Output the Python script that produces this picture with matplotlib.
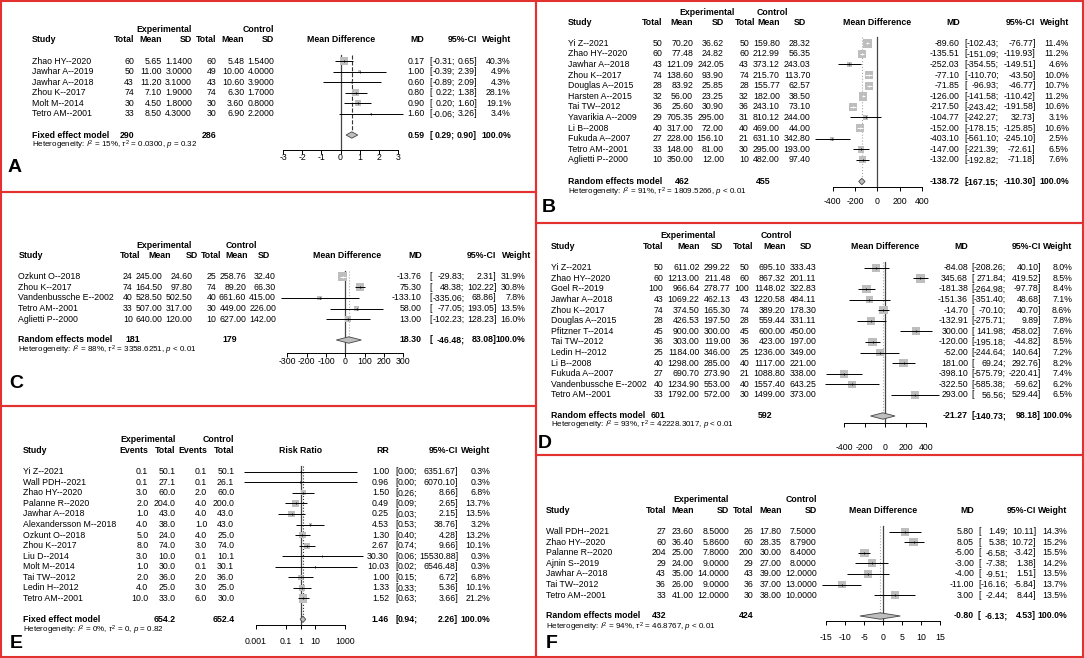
import numpy as np
import matplotlib.pyplot as plt
from matplotlib import transforms
from matplotlib.patches import Rectangle
from matplotlib.ticker import NullLocator

plt.rcParams['font.family'] = ['Liberation Sans', 'DejaVu Sans']
plt.rcParams['mathtext.fontset'] = 'custom'
plt.rcParams['mathtext.rm'] = 'Liberation Sans'
plt.rcParams['mathtext.it'] = 'Liberation Sans:italic'

# ---------------- A : fixed effect, mean difference
a_study = ['Zhao HY--2020', 'Jawhar A--2019', 'Jawhar A--2018', 'Zhou K--2017', 'Molt M--2014', 'Tetro AM--2001']
a_n1 = [60, 50, 43, 74, 30, 33]
a_m1 = [5.65, 11.00, 11.20, 7.10, 4.50, 8.50]
a_s1 = [1.14, 3.0, 3.1, 1.9, 1.8, 4.3]
a_n2 = [60, 49, 43, 74, 30, 30]
a_m2 = [5.48, 10.00, 10.60, 6.30, 3.60, 6.90]
a_s2 = [1.54, 4.0, 3.9, 1.7, 0.8, 2.2]
a_md = [0.17, 1.00, 0.60, 0.80, 0.90, 1.60]
a_lo = [-0.31, -0.39, -0.89, 0.22, 0.20, -0.06]
a_hi = [0.65, 2.39, 2.09, 1.38, 1.60, 3.26]
a_w = [40.3, 4.9, 4.3, 28.1, 19.1, 3.4]
a_pooled = [0.59, 0.29, 0.90]
a_totals = [290, 286]
a_het = ['15%', '0.0300', '= 0.32']
a_ticks = [-3, -2, -1, 0, 1, 2, 3]

# ---------------- B
b_study = ['Yi Z--2021', 'Zhao HY--2020', 'Jawhar A--2018', 'Zhou K--2017', 'Douglas A--2015', 'Harsten A--2015',
           'Tai TW--2012', 'Yavarikia A--2009', 'Li B--2008', 'Fukuda A--2007', 'Tetro AM--2001', 'Aglietti P--2000']
b_n1 = [50, 60, 43, 74, 28, 32, 36, 29, 40, 27, 33, 10]
b_m1 = [70.20, 77.48, 121.09, 138.60, 83.92, 56.00, 25.60, 705.35, 317.00, 228.00, 148.00, 350.00]
b_s1 = [36.62, 24.82, 242.05, 93.90, 25.85, 23.25, 30.90, 295.00, 72.00, 156.10, 81.00, 12.00]
b_n2 = [50, 60, 43, 74, 28, 32, 36, 31, 40, 21, 30, 10]
b_m2 = [159.80, 212.99, 373.12, 215.70, 155.77, 182.00, 243.10, 810.12, 469.00, 631.10, 295.00, 482.00]
b_s2 = [28.32, 56.35, 243.03, 113.70, 62.57, 38.50, 73.10, 244.00, 44.00, 342.80, 193.00, 97.40]
b_md = [-89.60, -135.51, -252.03, -77.10, -71.85, -126.00, -217.50, -104.77, -152.00, -403.10, -147.00, -132.00]
b_lo = [-102.43, -151.09, -354.55, -110.70, -96.93, -141.58, -243.42, -242.27, -178.15, -561.10, -221.39, -192.82]
b_hi = [-76.77, -119.93, -149.51, -43.50, -46.77, -110.42, -191.58, 32.73, -125.85, -245.10, -72.61, -71.18]
b_w = [11.4, 11.2, 4.6, 10.0, 10.7, 11.2, 10.6, 3.1, 10.6, 2.5, 6.5, 7.6]
b_pooled = [-138.72, -167.15, -110.30]
b_totals = [462, 455]
b_het = ['91%', '1809.5266', '< 0.01']
b_ticks = [-400, -200, 0, 200, 400]

# ---------------- C
c_study = ['Ozkunt O--2018', 'Zhou K--2017', 'Vandenbussche E--2002', 'Tetro AM--2001', 'Aglietti P--2000']
c_n1 = [24, 74, 40, 33, 10]
c_m1 = [245.00, 164.50, 528.50, 507.00, 640.00]
c_s1 = [24.60, 97.80, 502.50, 317.00, 120.00]
c_n2 = [25, 74, 40, 30, 10]
c_m2 = [258.76, 89.20, 661.60, 449.00, 627.00]
c_s2 = [32.40, 66.30, 415.00, 226.00, 142.00]
c_md = [-13.76, 75.30, -133.10, 58.00, 13.00]
c_lo = [-29.83, 48.38, -335.06, -77.05, -102.23]
c_hi = [2.31, 102.22, 68.86, 193.05, 128.23]
c_w = [31.9, 30.8, 7.8, 13.5, 16.0]
c_pooled = [18.30, -46.48, 83.08]
c_totals = [181, 179]
c_het = ['88%', '3358.6251', '< 0.01']
c_ticks = [-300, -200, -100, 0, 100, 200, 300]

# ---------------- D
d_study = ['Yi Z--2021', 'Zhao HY--2020', 'Goel R--2019', 'Jawhar A--2018', 'Zhou K--2017', 'Douglas A--2015',
           'Pfitzner T--2014', 'Tai TW--2012', 'Ledin H--2012', 'Li B--2008', 'Fukuda A--2007',
           'Vandenbussche E--2002', 'Tetro AM--2001']
d_n1 = [50, 60, 100, 43, 74, 28, 45, 36, 25, 40, 27, 40, 33]
d_m1 = [611.02, 1213.00, 966.64, 1069.22, 374.50, 426.53, 900.00, 303.00, 1184.00, 1298.00, 690.70, 1234.90, 1792.00]
d_s1 = [299.22, 211.48, 278.77, 462.13, 165.30, 197.50, 300.00, 119.00, 346.00, 285.00, 273.90, 553.00, 572.00]
d_n2 = [50, 60, 100, 43, 74, 28, 45, 36, 25, 40, 21, 40, 30]
d_m2 = [695.10, 867.32, 1148.02, 1220.58, 389.20, 559.44, 600.00, 423.00, 1236.00, 1117.00, 1088.80, 1557.40, 1499.00]
d_s2 = [333.43, 201.11, 322.83, 484.11, 178.30, 331.11, 450.00, 197.00, 349.00, 221.00, 338.00, 643.25, 373.00]
d_md = [-84.08, 345.68, -181.38, -151.36, -14.70, -132.91, 300.00, -120.00, -52.00, 181.00, -398.10, -322.50, 293.00]
d_lo = [-208.26, 271.84, -264.98, -351.40, -70.10, -275.71, 141.98, -195.18, -244.64, 69.24, -575.79, -585.38, 56.56]
d_hi = [40.10, 419.52, -97.78, 48.68, 40.70, 9.89, 458.02, -44.82, 140.64, 292.76, -220.41, -59.62, 529.44]
d_w = [8.0, 8.5, 8.4, 7.1, 8.6, 7.8, 7.6, 8.5, 7.2, 8.2, 7.4, 6.2, 6.5]
d_pooled = [-21.27, -140.73, 98.18]
d_totals = [601, 592]
d_het = ['93%', '42228.3017', '< 0.01']
d_ticks = [-400, -200, 0, 200, 400]

# ---------------- E : risk ratio (log scale)
e_study = ['Yi Z--2021', 'Wall PDH--2021', 'Zhao HY--2020', 'Palanne R--2020', 'Jawhar A--2018',
           'Alexandersson M--2018', 'Ozkunt O--2018', 'Zhou K--2017', 'Liu D--2014', 'Molt M--2014',
           'Tai TW--2012', 'Ledin H--2012', 'Tetro AM--2001']
e_ev1 = [0.1, 0.1, 3.0, 2.0, 1.0, 4.0, 5.0, 8.0, 3.0, 1.0, 2.0, 4.0, 10.0]
e_n1 = [50.1, 27.1, 60.0, 204.0, 43.0, 38.0, 24.0, 74.0, 10.0, 30.0, 36.0, 25.0, 33.0]
e_ev2 = [0.1, 0.1, 2.0, 4.0, 4.0, 1.0, 4.0, 3.0, 0.1, 0.1, 2.0, 3.0, 6.0]
e_n2 = [50.1, 26.1, 60.0, 200.0, 43.0, 43.0, 25.0, 74.0, 10.1, 30.1, 36.0, 25.0, 30.0]
e_rr = [1.00, 0.96, 1.50, 0.49, 0.25, 4.53, 1.30, 2.67, 30.30, 10.03, 1.00, 1.33, 1.52]
e_lo = [0.00016, 0.00015, 0.26, 0.09, 0.03, 0.53, 0.40, 0.74, 0.06, 0.02, 0.15, 0.33, 0.63]
e_hi = [6351.67, 6070.10, 8.66, 2.65, 2.15, 38.76, 4.28, 9.66, 15530.88, 6546.48, 6.72, 5.36, 3.66]
e_w = [0.3, 0.3, 6.8, 13.7, 13.5, 3.2, 13.2, 10.1, 0.3, 0.3, 6.8, 10.1, 21.2]
e_pooled = [1.46, 0.94, 2.26]
e_totals = ['654.2', '652.4']
e_het = ['0%', '0', '= 0.82']
e_ticks = [0.001, 0.1, 1, 10, 1000]

# ---------------- F
f_study = ['Wall PDH--2021', 'Zhao HY--2020', 'Palanne R--2020', 'Ajnin S--2019', 'Jawhar A--2018',
           'Tai TW--2012', 'Tetro AM--2001']
f_n1 = [27, 60, 204, 29, 43, 36, 33]
f_m1 = [23.60, 36.40, 25.00, 24.00, 35.00, 26.00, 41.00]
f_s1 = [8.5, 5.86, 7.8, 9.0, 14.0, 9.0, 12.0]
f_n2 = [26, 60, 200, 29, 43, 36, 30]
f_m2 = [17.80, 28.35, 30.00, 27.00, 39.00, 37.00, 38.00]
f_s2 = [7.5, 8.79, 8.4, 8.0, 12.0, 13.0, 10.0]
f_md = [5.80, 8.05, -5.00, -3.00, -4.00, -11.00, 3.00]
f_lo = [1.49, 5.38, -6.58, -7.38, -9.51, -16.16, -2.44]
f_hi = [10.11, 10.72, -3.42, 1.38, 1.51, -5.84, 8.44]
f_w = [14.3, 15.2, 15.5, 14.2, 13.5, 13.7, 13.5]
f_pooled = [-0.80, -6.13, 4.53]
f_totals = [432, 424]
f_het = ['94%', '46.8767', '< 0.01']
f_ticks = [-15, -10, -5, 0, 5, 10, 15]

W, H = 1084, 658
RED = '#e2312f'
FS = 6.3
HFS = 5.8
SQ = '#bebebe'

fig = plt.figure(figsize=(W / 100, H / 100), dpi=100)
bg = fig.add_axes([0, 0, 1, 1])
bg.set_xlim(0, W)
bg.set_ylim(H, 0)
bg.axis('off')


def txt(x, y, s, ha='right', bold=False, size=FS, **kw):
    bg.text(x, y, s, ha=ha, va='center', fontsize=size,
            fontweight='bold' if bold else 'normal', **kw)


def panel(L, study, cols, fmts, es, lo, hi, w, pooled, totals, het, ticks, tick_labels,
          heads, es_name, effect, model, null, ref_ls, ref_col, log=False):
    x0, y0, x1, y1 = L['box']
    bg.add_patch(Rectangle((x0, y0), x1 - x0, y1 - y0, fill=False, ec=RED, lw=1.5, zorder=10))
    # column headers
    for s, x, ha in L['group']:
        txt(x, L['gy'], s, ha=ha, bold=True)
    txt(L['sx'], L['hy'], 'Study', ha='left', bold=True)
    for s, x in zip(heads, L.get('hx', L['cx'])):
        txt(x, L['hy'], s, bold=True)
    txt(L['ex'], L['hy'], effect, ha='center', bold=True)
    txt(L['mx'], L['hy'], es_name, bold=True)
    txt(L['ce'], L['hy'], '95%-CI', bold=True)
    txt(L.get('hw', L['wx']), L['hy'], 'Weight', bold=True)

    ys = L['y0'] + L['dy'] * np.arange(len(study))
    for i, y in enumerate(ys):
        txt(L['sx'], y, study[i], ha='left')
        for c, x, f in zip(cols, L['cx'], fmts):
            txt(x, y, f.format(c[i]))
        txt(L['mx'], y, f'{es[i]:.2f}')
        txt(L['bx'], y, '[', ha='left')
        txt(L['semi'], y, f'{lo[i]:.2f};')
        txt(L['ce'], y, f'{hi[i]:.2f}]')
        txt(L['wx'], y, f'{w[i]:.1f}%')

    sy = L['sy']
    txt(L['sx'], sy, model, ha='left', bold=True)
    for t, x in zip(totals, L['totx']):
        txt(x, sy, str(t), bold=True)
    txt(L['mx'], sy, f'{pooled[0]:.2f}', bold=True)
    txt(L['bx'], sy, '[', ha='left', bold=True)
    txt(L['semi'], sy, f'{pooled[1]:.2f};', bold=True)
    txt(L['ce'], sy, f'{pooled[2]:.2f}]', bold=True)
    txt(L['wx'], sy, '100.0%', bold=True)
    txt(L['sx'], L['hety'],
        'Heterogeneity: $I^2$ = %s, $\\tau^2$ = %s, $p$ %s' % tuple(het), ha='left', size=HFS)
    txt(L['lab'][1], L['lab'][2], L['lab'][0], ha='left', bold=True, size=14)

    # forest part
    fx0, fx1 = L['fx']
    top, bot = L['y0'] - 6, L['ay']
    ax = fig.add_axes([fx0 / W, 1 - bot / H, (fx1 - fx0) / W, (bot - top) / H])
    ax.set_facecolor('none')
    if log:
        ax.set_xscale('log')
    ax.set_xlim(ticks[0], ticks[-1])
    ax.set_ylim(bot, top)
    for s in ['top', 'left', 'right']:
        ax.spines[s].set_visible(False)
    ax.spines['bottom'].set_linewidth(0.7)
    ax.set_yticks([])
    ax.set_xticks(ticks)
    ax.xaxis.set_minor_locator(NullLocator())
    ax.tick_params(axis='x', direction='out', length=3.2, width=0.7, labelbottom=False)
    tr = transforms.blended_transform_factory(ax.transData, bg.transData)
    for t, s in zip(ticks, tick_labels):
        bg.text(t, L['ly'], s, transform=tr, ha='center', va='center', fontsize=FS)

    ax.plot([null, null], [top, bot], color='#444444', lw=0.9, clip_on=False)
    ax.plot([pooled[0], pooled[0]], [top, sy], color=ref_col, lw=0.8, ls=ref_ls, clip_on=False)
    es, lo, hi, w = map(np.asarray, (es, lo, hi, w))
    side_px = 8.5 * np.sqrt(w / w.max())
    ax.scatter(es, ys, marker='s', s=(side_px * 0.72) ** 2, color=SQ, lw=0, zorder=3, clip_on=False)
    # CI drawn white when it lies completely inside its square
    inside = np.zeros(len(es), dtype=bool)
    if not log:
        half = side_px / 2 / ((fx1 - fx0) / (ticks[-1] - ticks[0]))
        inside = (lo >= es - half) & (hi <= es + half)
    ax.hlines(ys[~inside], lo[~inside], hi[~inside], color='black', lw=0.7, zorder=4, clip_on=False)
    ax.hlines(ys[inside], lo[inside], hi[inside], color='white', lw=0.7, zorder=4, clip_on=False)
    ax.scatter(es[~inside], ys[~inside], marker='|', s=4, color='black', lw=0.6, zorder=5, clip_on=False)
    ax.scatter(es[inside], ys[inside], marker='|', s=4, color='white', lw=0.6, zorder=5, clip_on=False)
    ax.fill([pooled[1], pooled[0], pooled[2], pooled[0]], [sy, sy - 3.2, sy, sy + 3.2],
            fc=SQ, ec='#444444', lw=0.6, zorder=5, clip_on=False)


md_heads = ['Total', 'Mean', 'SD', 'Total', 'Mean', 'SD']

LA = dict(box=(1, 1, 536, 192), sx=31.7, gy=29.3, hy=40, y0=61, dy=10.6, sy=135, hety=145.7,
          cx=[134, 161.8, 192, 216.4, 244.2, 274.4], totx=[134, 216.4],
          group=[('Experimental', 192, 'right'), ('Control', 274.4, 'right')],
          fx=(283, 398), ay=150, ly=157, ex=340.7, mx=424.3, bx=429.3, semi=455, ce=477, wx=510.8,
          lab=('A', 8, 167))
LB = dict(box=(536, 1, 1083, 223), sx=567.7, gy=12.3, hy=22.7, y0=43.3, dy=10.6, sy=181.5, hety=192.5,
          cx=[662.3, 693.1, 723.9, 748.9, 779.7, 810.5], hx=[662.3, 693.1, 723.9, 755, 779.7, 806],
          totx=[690, 771],
          group=[('Experimental', 706.7, 'center'), ('Control', 772, 'center')],
          fx=(832.8, 921.8), ay=187, ly=201.7, ex=877, mx=959.7, bx=964.2, semi=999, ce=1035.5, wx=1068.8,
          lab=('B', 542, 208))
LC = dict(box=(1, 192, 536, 406), sx=18.3, gy=245, hy=255.7, y0=276.7, dy=10.6, sy=340, hety=350.7,
          cx=[132.7, 162.5, 192.3, 216.3, 246.1, 276], hx=[140, 171, 198, 221.7, 248.3, 270],
          totx=[140, 237.3],
          group=[('Experimental', 164, 'center'), ('Control', 241.7, 'center')],
          fx=(287.3, 403.3), ay=353.3, ly=361, ex=347.3, mx=421.7, bx=429, semi=464.5, ce=496.5, wx=525,
          hw=531, lab=('C', 9, 383))
LD = dict(box=(536, 223, 1083, 455), sx=550.6, gy=236, hy=246.7, y0=267.7, dy=10.6, sy=416, hety=425.3,
          cx=[663.5, 699.5, 730.6, 749.5, 785.5, 816.5], hx=[663.5, 699.5, 723, 753.3, 785.5, 812],
          totx=[665, 772],
          group=[('Experimental', 688, 'center'), ('Control', 776, 'center')],
          fx=(844, 926), ay=422.7, ly=447, ex=885, mx=968, bx=971.5, semi=1006, ce=1041, wx=1072,
          lab=('D', 538, 444))
LE = dict(box=(1, 406, 536, 657), sx=22.7, gy=440, hy=450.7, y0=471.7, dy=10.56, sy=619.3, hety=630.7,
          cx=[148.3, 175.5, 207.1, 234.3], totx=[175.5, 234.3],
          group=[('Experimental', 175.5, 'right'), ('Control', 234.3, 'right')],
          fx=(256, 345), ay=625, ly=641.7, ex=300.7, mx=389, bx=395, semi=417.5, ce=458, wx=490,
          lab=('E', 10, 643))
LF = dict(box=(536, 455, 1083, 657), sx=546, gy=499.3, hy=510.7, y0=531.7, dy=10.56, sy=616, hety=627.7,
          cx=[666, 693.9, 729.1, 753.6, 781.5, 816.7], totx=[666, 753.6],
          group=[('Experimental', 729.1, 'right'), ('Control', 816.7, 'right')],
          fx=(826.4, 940), ay=621, ly=637.3, ex=883.2, mx=974, bx=977.9, semi=1008, ce=1036, wx=1066.9,
          lab=('F', 546, 644))

panel(LA, a_study, [a_n1, a_m1, a_s1, a_n2, a_m2, a_s2], ['{}', '{:.2f}', '{:.4f}', '{}', '{:.2f}', '{:.4f}'],
      a_md, a_lo, a_hi, a_w, a_pooled, a_totals, a_het, a_ticks, [str(t) for t in a_ticks],
      md_heads, 'MD', 'Mean Difference', 'Fixed effect model', 0, '--', '#333333')
panel(LC, c_study, [c_n1, c_m1, c_s1, c_n2, c_m2, c_s2], ['{}', '{:.2f}', '{:.2f}', '{}', '{:.2f}', '{:.2f}'],
      c_md, c_lo, c_hi, c_w, c_pooled, c_totals, c_het, c_ticks, [str(t) for t in c_ticks],
      md_heads, 'MD', 'Mean Difference', 'Random effects model', 0, ':', '#aaaaaa')
panel(LE, e_study, [e_ev1, e_n1, e_ev2, e_n2], ['{:.1f}'] * 4,
      e_rr, e_lo, e_hi, e_w, e_pooled, e_totals, e_het, e_ticks, ['0.001', '0.1', '1', '10', '1000'],
      ['Events', 'Total', 'Events', 'Total'], 'RR', 'Risk Ratio', 'Fixed effect model', 1, ':', '#333333',
      log=True)
panel(LB, b_study, [b_n1, b_m1, b_s1, b_n2, b_m2, b_s2], ['{}', '{:.2f}', '{:.2f}', '{}', '{:.2f}', '{:.2f}'],
      b_md, b_lo, b_hi, b_w, b_pooled, b_totals, b_het, b_ticks, [str(t) for t in b_ticks],
      md_heads, 'MD', 'Mean Difference', 'Random effects model', 0, ':', '#aaaaaa')
panel(LD, d_study, [d_n1, d_m1, d_s1, d_n2, d_m2, d_s2], ['{}', '{:.2f}', '{:.2f}', '{}', '{:.2f}', '{:.2f}'],
      d_md, d_lo, d_hi, d_w, d_pooled, d_totals, d_het, d_ticks, [str(t) for t in d_ticks],
      md_heads, 'MD', 'Mean Difference', 'Random effects model', 0, ':', '#aaaaaa')
panel(LF, f_study, [f_n1, f_m1, f_s1, f_n2, f_m2, f_s2], ['{}', '{:.2f}', '{:.4f}', '{}', '{:.2f}', '{:.4f}'],
      f_md, f_lo, f_hi, f_w, f_pooled, f_totals, f_het, f_ticks, [str(t) for t in f_ticks],
      md_heads, 'MD', 'Mean Difference', 'Random effects model', 0, ':', '#aaaaaa')

fig.savefig('out.png', dpi=100)
